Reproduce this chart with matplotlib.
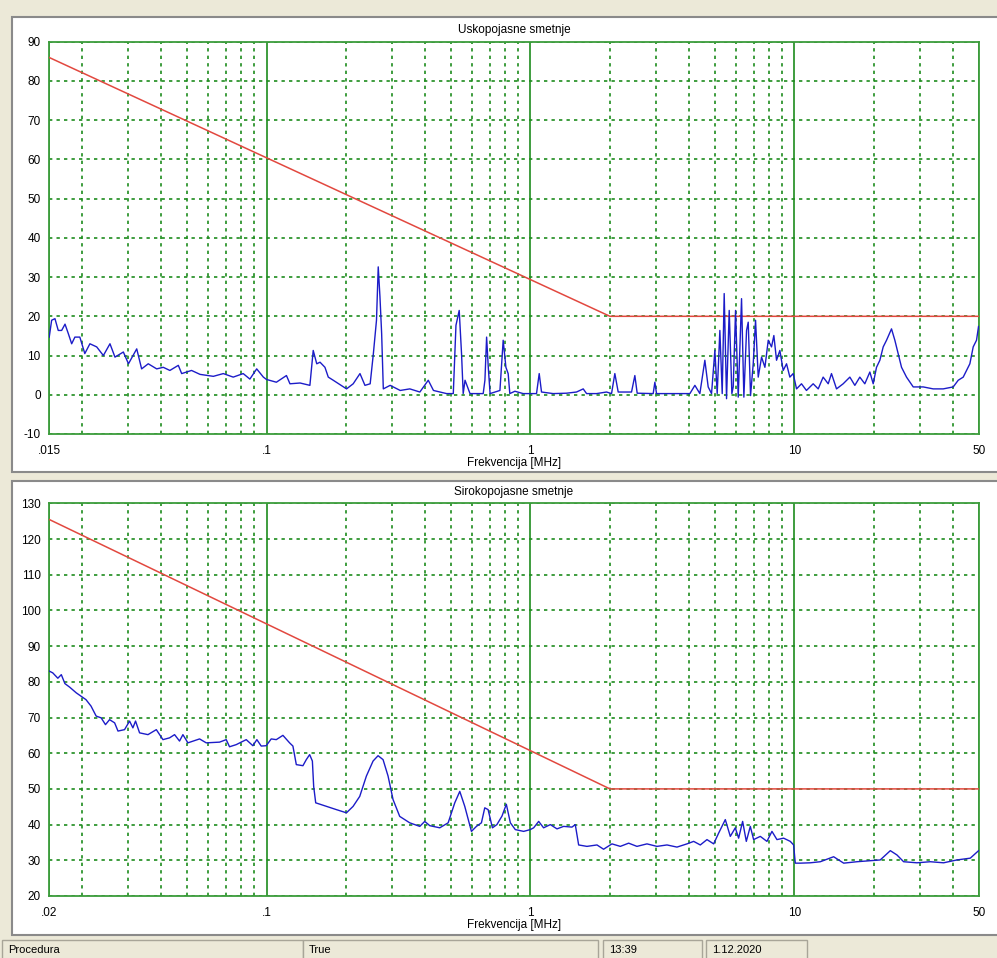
import matplotlib as mpl
mpl.use('Agg')
import matplotlib.pyplot as plt
from matplotlib.patches import Rectangle
from matplotlib.ticker import LogLocator, FixedLocator, FixedFormatter, NullFormatter, MultipleLocator

plt.rcParams['font.family'] = ['Liberation Sans', 'DejaVu Sans']
plt.rcParams['axes.unicode_minus'] = False

# Uskopojasne smetnje (narrowband) - frequency [MHz] / level [dBuV]
narrow_freq = [
    0.01503, 0.01535, 0.0158, 0.01626, 0.01675, 0.01725, 0.01775, 0.01828, 0.0188, 0.01963,
    0.0205, 0.02143, 0.02274, 0.0241, 0.02553, 0.02667, 0.02869, 0.030, 0.03224, 0.03365,
    0.03565, 0.03837, 0.04064, 0.04305, 0.04634, 0.04772, 0.052, 0.056, 0.0629, 0.0686,
    0.0748, 0.0816, 0.0865, 0.0918, 0.0973, 0.100, 0.109, 0.119, 0.1227, 0.134,
    0.146, 0.1503, 0.155, 0.1595, 0.1665, 0.1714, 0.179, 0.201, 0.213, 0.226,
    0.236, 0.247, 0.254, 0.261, 0.265, 0.269, 0.273, 0.277, 0.294, 0.321,
    0.349, 0.381, 0.410, 0.429, 0.481, 0.510, 0.522, 0.537, 0.548, 0.556,
    0.565, 0.590, 0.662, 0.672, 0.682, 0.692, 0.703, 0.766, 0.788, 0.807,
    0.823, 0.835, 0.873, 0.938, 0.994, 1.054, 1.079, 1.101, 1.219, 1.369,
    1.494, 1.584, 1.631, 1.779, 1.941, 2.028, 2.087, 2.149, 2.414, 2.485,
    2.536, 2.916, 2.959, 3.002, 3.472, 4.016, 4.195, 4.381, 4.576, 4.711,
    4.851, 4.994, 5.096, 5.216, 5.324, 5.417, 5.529, 5.659, 5.792, 5.860,
    5.981, 6.122, 6.302, 6.431, 6.583, 6.680, 6.817, 6.978, 7.121, 7.289,
    7.505, 7.727, 7.955, 8.185, 8.354, 8.551, 8.803, 9.063, 9.331, 9.605,
    9.888, 10.18, 10.63, 11.10, 11.77, 12.30, 12.84, 13.42, 13.81, 14.43,
    15.29, 16.21, 16.93, 17.68, 18.47, 19.30, 19.87, 20.45, 21.06, 21.68,
    22.32, 23.31, 24.00, 24.71, 25.44, 26.57, 28.17, 30.73, 33.53, 36.59,
    39.93, 41.71, 43.57, 44.85, 46.17, 47.53, 48.93, 49.8,
]
narrow_level = [
    14.7, 19.0, 19.4, 16.4, 16.4, 18.0, 15.6, 13.0, 14.7, 14.7,
    10.5, 13.0, 12.2, 10.0, 13.0, 9.6, 10.9, 7.9, 11.7, 6.6,
    7.9, 6.6, 7.0, 6.2, 7.5, 5.4, 6.2, 5.2, 4.7, 5.4,
    4.5, 5.4, 4.0, 6.6, 4.5, 3.9, 3.2, 4.9, 2.8, 3.0,
    2.4, 11.3, 7.9, 8.3, 7.0, 4.5, 3.7, 1.5, 2.8, 5.4,
    2.4, 2.8, 10.5, 19.0, 32.6, 25.0, 15.6, 1.5, 2.4, 1.1,
    1.5, 0.7, 3.7, 1.1, 0.3, 0.3, 17.7, 21.5, 10.5, 0.3,
    3.7, 0.3, 0.3, 3.7, 14.7, 7.0, 0.3, 1.1, 13.9, 7.0,
    5.4, 0.3, 0.9, 0.3, 0.3, 0.3, 5.4, 0.7, 0.3, 0.4,
    0.7, 1.5, 0.3, 0.3, 0.7, 0.3, 5.4, 0.7, 0.7, 4.9,
    0.4, 0.3, 3.2, 0.3, 0.3, 0.3, 2.4, 0.3, 8.8, 2.0,
    0.3, 11.3, 0.3, 16.4, 0.3, 25.8, -1.0, 21.5, 0.3, 2.0,
    21.5, -0.6, 24.5, -0.6, 16.4, 18.5, -0.2, 7.9, 19.0, 4.5,
    9.6, 7.0, 13.9, 12.2, 15.1, 8.8, 11.3, 6.2, 7.9, 4.5,
    5.4, 1.5, 2.8, 1.1, 2.8, 1.5, 4.5, 2.8, 5.4, 1.5,
    2.8, 4.5, 2.4, 4.5, 2.8, 5.8, 2.8, 7.0, 8.8, 12.2,
    13.9, 16.8, 13.9, 10.5, 7.0, 4.5, 2.0, 2.0, 1.5, 1.5,
    2.0, 3.7, 4.5, 6.2, 7.9, 12.2, 13.9, 17.4,
]

# Sirokopojasne smetnje (broadband)
broad_freq = [
    0.01503, 0.0155, 0.0162, 0.0167, 0.01723, 0.01796, 0.01903, 0.02071, 0.02164, 0.02263,
    0.02364, 0.02455, 0.02544, 0.02659, 0.02738, 0.02899, 0.03029, 0.03118, 0.03191, 0.03305,
    0.03556, 0.03825, 0.04052, 0.04294, 0.04485, 0.04684, 0.04823, 0.05038, 0.05578, 0.05912,
    0.06641, 0.07037, 0.07244, 0.07679, 0.0838, 0.08879, 0.09194, 0.09548, 0.09976, 0.1042,
    0.1089, 0.1154, 0.1223, 0.1259, 0.1297, 0.1374, 0.1415, 0.1457, 0.1492, 0.1509,
    0.1536, 0.1686, 0.1839, 0.2008, 0.2128, 0.2255, 0.239, 0.2533, 0.2646, 0.2764,
    0.2887, 0.3016, 0.3196, 0.3487, 0.3807, 0.3976, 0.4154, 0.4532, 0.4876, 0.5166,
    0.5397, 0.5637, 0.5974, 0.624, 0.6518, 0.6711, 0.6909, 0.7175, 0.746, 0.780,
    0.810, 0.839, 0.876, 0.942, 0.998, 1.028, 1.074, 1.121, 1.189, 1.260,
    1.335, 1.436, 1.478, 1.522, 1.636, 1.786, 1.892, 2.035, 2.189, 2.354,
    2.531, 2.762, 3.014, 3.289, 3.588, 3.915, 4.150, 4.398, 4.662, 4.941,
    5.160, 5.470, 5.713, 5.968, 6.144, 6.362, 6.569, 6.803, 7.002, 7.422,
    7.865, 8.216, 8.582, 9.097, 9.641, 9.925, 10.07, 10.52, 11.48, 12.53,
    14.07, 15.36, 17.24, 19.37, 21.13, 23.07, 24.44, 25.91, 29.10, 32.69,
    36.72, 41.24, 46.34, 49.83,
]
broad_level = [
    83.0, 82.5, 81.0, 82.0, 79.5, 78.5, 76.9, 75.0, 73.2, 70.4,
    69.9, 68.0, 69.4, 68.5, 66.2, 66.6, 69.0, 67.1, 69.0, 65.7,
    65.2, 66.6, 63.8, 64.3, 65.2, 63.4, 65.2, 62.9, 64.0, 62.9,
    63.1, 63.8, 61.8, 62.4, 63.8, 62.1, 63.8, 62.0, 62.1, 64.0,
    63.8, 65.0, 62.9, 62.0, 56.8, 56.5, 58.2, 59.6, 57.8, 50.7,
    46.1, 45.1, 44.2, 43.3, 45.1, 47.9, 53.6, 57.8, 59.3, 58.2,
    53.6, 47.0, 42.3, 40.5, 39.5, 40.9, 39.7, 39.1, 40.5, 46.1,
    49.3, 45.1, 38.1, 39.5, 40.5, 44.7, 44.2, 39.1, 40.0, 42.4,
    45.7, 40.5, 38.6, 38.1, 38.6, 39.1, 40.9, 39.1, 40.0, 38.8,
    39.5, 39.3, 40.0, 34.3, 33.9, 34.3, 33.1, 34.6, 33.9, 34.8,
    33.9, 34.6, 33.9, 34.3, 33.7, 34.6, 35.3, 34.3, 35.8, 34.6,
    37.6, 41.4, 36.7, 39.1, 36.2, 40.9, 35.3, 39.5, 35.8, 36.7,
    35.3, 38.1, 35.8, 36.2, 35.3, 34.3, 29.2, 29.2, 29.3, 29.6,
    31.0, 29.2, 29.6, 29.9, 30.1, 32.7, 31.5, 29.6, 29.3, 29.6,
    29.3, 30.1, 30.6, 32.7,
]

# limit lines
limit_freq = [0.015, 2.0, 50.0]
narrow_limit = [86.0, 20.0, 20.0]
broad_limit = [125.5, 50.0, 50.0]

x_tick_pos = [0.015, 0.1, 1, 10, 50]
narrow_xlabels = ['.015', '.1', '1', '10', '50']
broad_xlabels = ['.02', '.1', '1', '10', '50']

W, H = 997, 958
BG = '#ECE9D8'
GRID = '#1E8C1E'
FRAME = '#3C9C3C'


def px_rect(x0, y0, x1, y1):
    # pixel box (top-left origin) -> figure fraction
    return (x0 / W, 1 - y1 / H, (x1 - x0) / W, (y1 - y0) / H)


def add_box(fig, x0, y0, x1, y1, face='white', edge='#8A8A8A', lw=1.5):
    l, b, w, h = px_rect(x0, y0, x1, y1)
    fig.add_artist(Rectangle((l, b), w, h, transform=fig.transFigure,
                             facecolor=face, edgecolor=edge, linewidth=lw, zorder=0))


def setup_panel(ax, title, ylim, xlabels):
    ax.set_xscale('log')
    ax.set_xlim(0.015, 50)
    ax.set_ylim(*ylim)
    ax.xaxis.set_major_locator(FixedLocator(x_tick_pos))
    ax.xaxis.set_major_formatter(FixedFormatter(xlabels))
    ax.xaxis.set_minor_locator(LogLocator(base=10, subs=range(2, 10), numticks=20))
    ax.xaxis.set_minor_formatter(NullFormatter())
    ax.yaxis.set_major_locator(MultipleLocator(10))
    ax.tick_params(which='both', length=0, labelsize=8.5, pad=6)
    ax.tick_params(axis='x', pad=8)
    ax.xaxis.grid(True, which='major', color=GRID, linestyle='-', linewidth=1.2)
    ax.xaxis.grid(True, which='minor', color=GRID, linestyle=(0, (2, 2.5)), linewidth=1.2)
    ax.yaxis.grid(True, which='major', color=GRID, linestyle=(0, (2, 2.5)), linewidth=1.2)
    ax.set_axisbelow(True)
    for s in ax.spines.values():
        s.set_color(FRAME)
        s.set_linewidth(1.3)
    ax.set_title(title, fontsize=8.5, pad=6)
    ax.set_xlabel('Frekvencija [MHz]', fontsize=8.5, labelpad=0)


fig = plt.figure(figsize=(W / 100, H / 100), dpi=100, facecolor=BG)

# panels
add_box(fig, 12, 17, 1000, 472)
add_box(fig, 12, 481, 1000, 935)

ax1 = fig.add_axes(px_rect(49, 41.7, 979, 434))
ax2 = fig.add_axes(px_rect(49, 503.3, 979, 896))

setup_panel(ax1, 'Uskopojasne smetnje', (-10, 90), narrow_xlabels)
setup_panel(ax2, 'Sirokopojasne smetnje', (20, 130), broad_xlabels)

ax1.plot(limit_freq, narrow_limit, color='#E2483F', linewidth=1.1, zorder=3)
ax1.plot(narrow_freq, narrow_level, color='#1C1CC8', linewidth=1.0, zorder=4)
ax2.plot(limit_freq, broad_limit, color='#E2483F', linewidth=1.1, zorder=3)
ax2.plot(broad_freq, broad_level, color='#1C1CC8', linewidth=1.0, zorder=4)

# status bar
status_items = [('Procedura', 2, 303), ('True', 303, 598), ('13:39', 603, 702), ('1.12.2020', 706, 807)]
for label, x0, x1 in status_items:
    add_box(fig, x0, 940, x1, 962, face=BG, edge='#A8A598', lw=1.0)
    fig.text((x0 + 6) / W, 1 - 950 / H, label, fontsize=8, va='center', ha='left')

fig.savefig('out.png', dpi=100, facecolor=BG)
plt.close()
